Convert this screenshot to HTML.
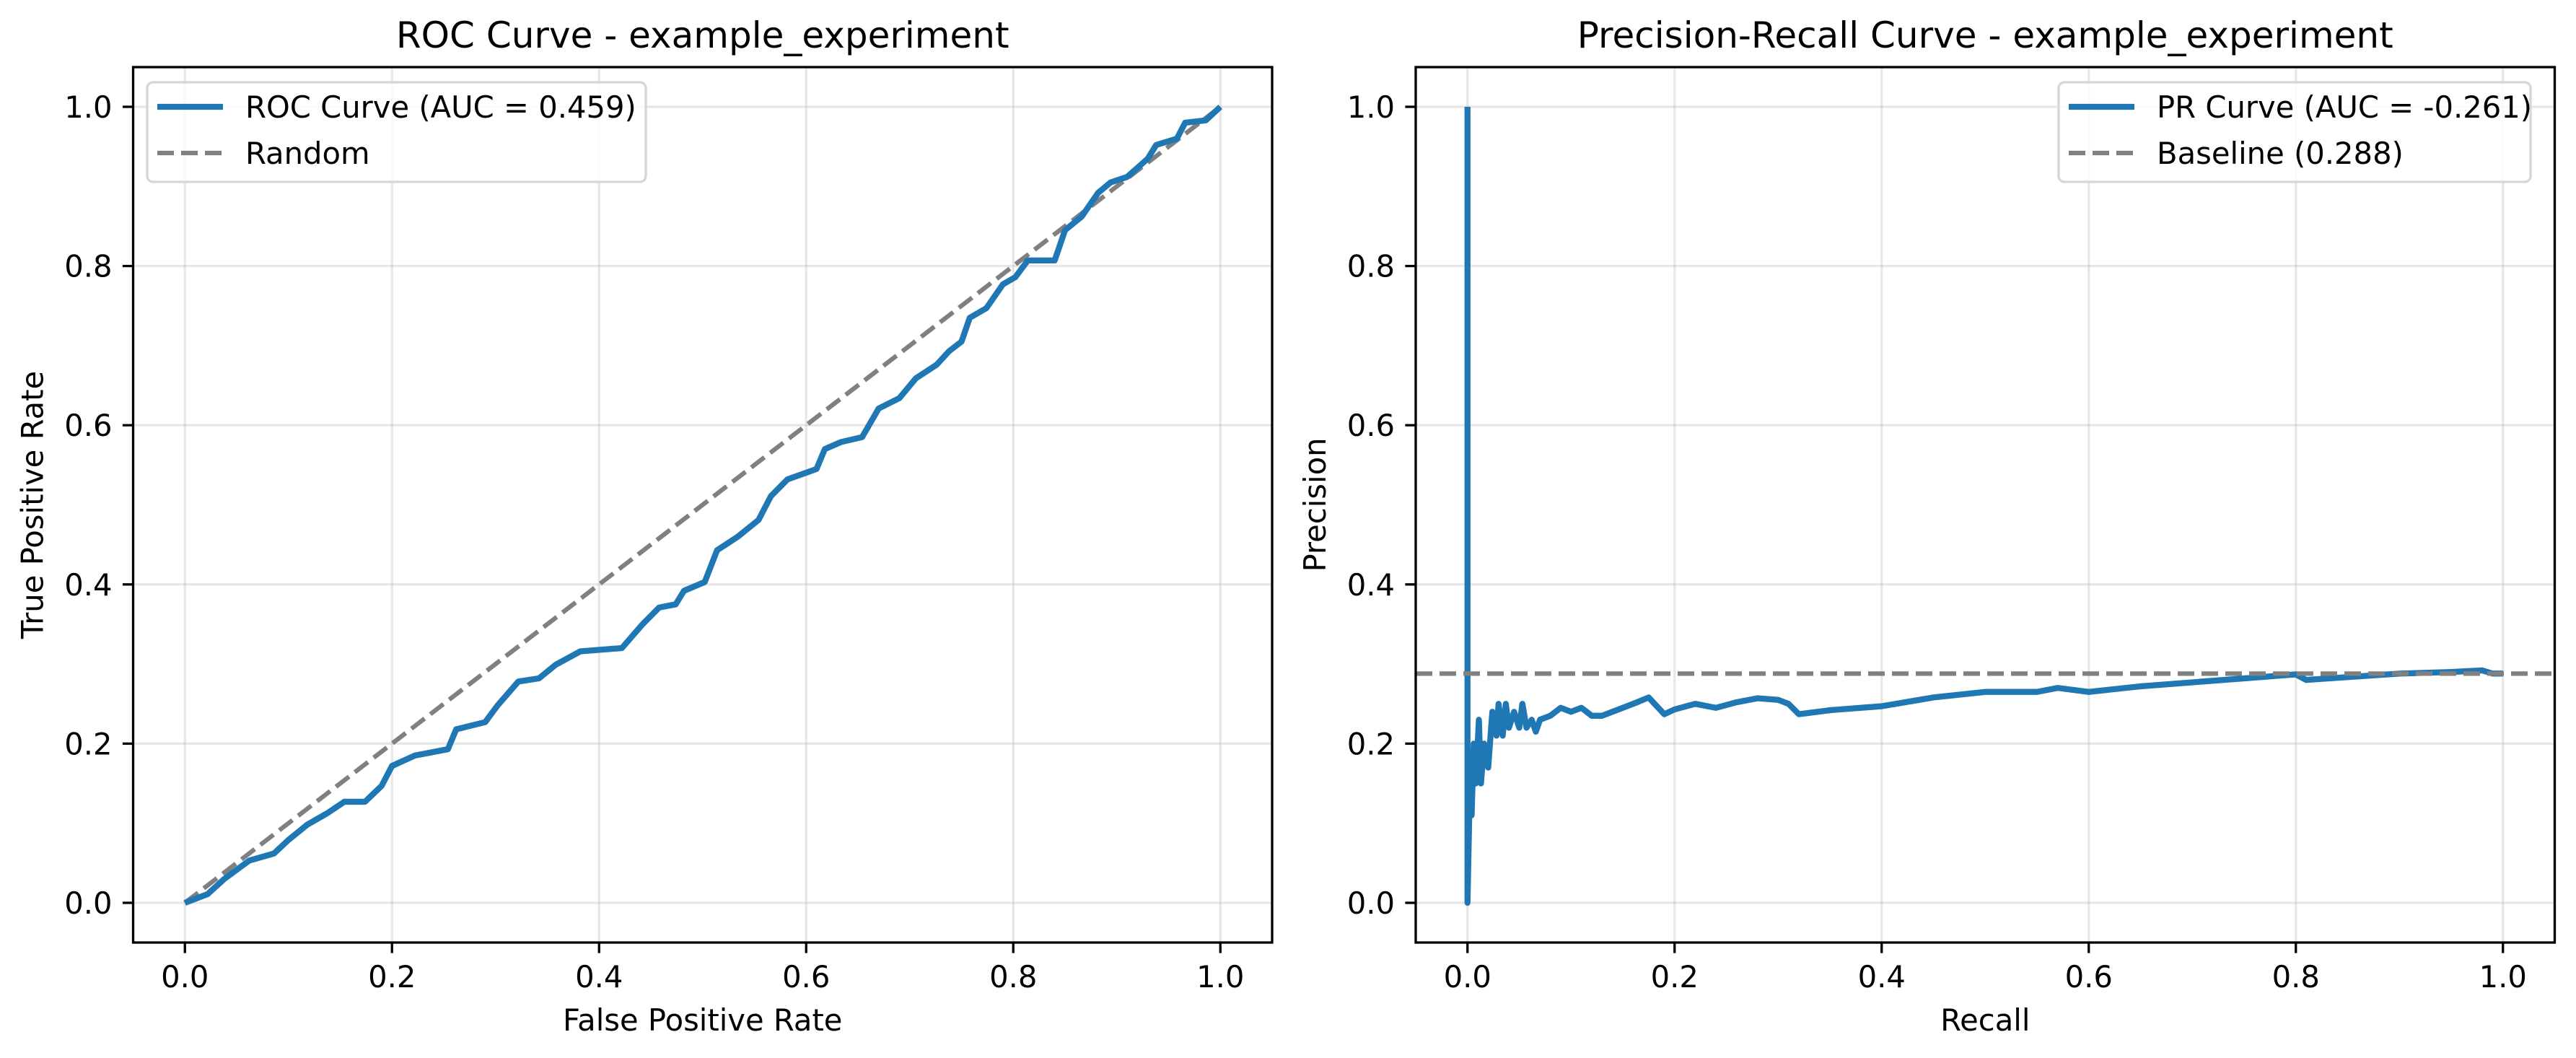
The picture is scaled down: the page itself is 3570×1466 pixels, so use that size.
<!DOCTYPE html>
<html><head><meta charset="utf-8"><style>
html,body{margin:0;padding:0;background:#fff;}
svg{display:block;font-family:"DejaVu Sans","Liberation Sans",sans-serif;}
</style></head><body>
<svg id="fig" width="3570" height="1466" viewBox="0 0 3570 1466" xmlns="http://www.w3.org/2000/svg"></svg>
<script>
const rocFpr=[0,.022,.038,.062,.086,.10,.118,.138,.154,.174,.19,.20,.222,.254,.262,.29,.302,.322,.342,.358,.382,.422,.442,.458,.474,.482,.502,.514,.534,.554,.566,.582,.61,.618,.634,.654,.67,.69,.706,.726,.738,.75,.758,.774,.79,.802,.814,.84,.85,.866,.882,.894,.91,.93,.938,.958,.966,.986,1];
const rocTpr=[0,.011,.03,.053,.062,.079,.098,.113,.127,.127,.147,.172,.185,.193,.218,.227,.248,.278,.282,.299,.316,.32,.35,.371,.375,.392,.403,.443,.46,.481,.511,.532,.545,.57,.579,.585,.621,.634,.659,.676,.693,.705,.735,.747,.777,.786,.807,.807,.845,.862,.892,.905,.912,.935,.952,.96,.98,.983,1];
const prRecall=[0,0,.002,.004,.006,.008,.011,.013,.016,.02,.024,.028,.03,.034,.037,.04,.045,.05,.053,.057,.062,.066,.07,.08,.09,.1,.11,.12,.13,.14,.15,.16,.175,.19,.2,.22,.24,.26,.28,.3,.31,.32,.35,.4,.45,.5,.55,.57,.6,.65,.7,.75,.8,.81,.9,.95,.98,.99,1];
const prPrecision=[1,0,.13,.11,.2,.15,.23,.15,.2,.17,.24,.21,.25,.21,.25,.22,.24,.22,.25,.22,.23,.215,.23,.235,.245,.24,.245,.235,.235,.24,.245,.25,.258,.237,.243,.25,.245,.252,.257,.255,.25,.237,.242,.247,.258,.265,.265,.27,.265,.272,.277,.282,.287,.28,.288,.29,.292,.288,.288];
const baseline=[0.288];
const ticks=[0,0.2,0.4,0.6,0.8,1.0];
const tickLabels=["0.0","0.2","0.4","0.6","0.8","1.0"];

const NS="http://www.w3.org/2000/svg";
const svg=document.getElementById('fig');
function mk(tag,attrs,parent){const e=document.createElementNS(NS,tag);for(const k in attrs)e.setAttribute(k,attrs[k]);(parent||svg).appendChild(e);return e;}

function panel(cfg){
  const g=mk('g',{});
  
  
  const L=cfg.left,W=1578.5,T=93,H=1213;
  const sx=v=>L+71.75+v*1435, sy=v=>1251-v*1103;
  ticks.forEach((t,i)=>{
    const gx=mk('line',{x1:sx(t),x2:sx(t),y1:T,y2:T+H,stroke:'#b0b0b0','stroke-opacity':0.3,'stroke-width':3.3},g);
    
    
    const gy=mk('line',{x1:L,x2:L+W,y1:sy(t),y2:sy(t),stroke:'#b0b0b0','stroke-opacity':0.3,'stroke-width':3.3},g);
    
    
    const tx=mk('line',{x1:sx(t),x2:sx(t),y1:T+H,y2:T+H+14.6,stroke:'#000','stroke-width':3.3},g);
    
    
    const ty=mk('line',{x1:L-14.6,x2:L,y1:sy(t),y2:sy(t),stroke:'#000','stroke-width':3.3},g);
    
    
    const lx=mk('text',{x:sx(t),y:1368,'font-size':41.7,'text-anchor':'middle',fill:'#000'},g);lx.textContent=tickLabels[i];
    
    
    const ly=mk('text',{x:L-29,y:sy(t)+15,'font-size':41.7,'text-anchor':'end',fill:'#000'},g);ly.textContent=tickLabels[i];
    
    
  });
  cfg.draw(g,sx,sy,L,W);
  const box=mk('rect',{x:L,y:T,width:W,height:H,fill:'none',stroke:'#000','stroke-width':3.3},g);
  
  
  const ti=mk('text',{x:L+W/2,y:66,'font-size':50,'text-anchor':'middle',fill:'#000'},g);ti.textContent=cfg.title;
  
  
  const xl=mk('text',{x:L+W/2,y:1428,'font-size':41.7,'text-anchor':'middle',fill:'#000'},g);xl.textContent=cfg.xlabel;
  
  
  const yl=mk('text',{x:0,y:0,'font-size':41.7,'text-anchor':'middle',fill:'#000',transform:`translate(${L-125},${T+H/2}) rotate(-90)`},g);yl.textContent=cfg.ylabel;
  
  
  const lg=mk('g',{},g);
  
  
  const lx0=cfg.legX, lw=cfg.legW;
  mk('rect',{x:lx0,y:114,width:lw,height:138,rx:8,fill:'#fff','fill-opacity':0.8,stroke:'#d6d6d6','stroke-width':3.3},lg);
  const l1=mk('line',{x1:lx0+14,x2:lx0+105,y1:148,y2:148,stroke:'#1f77b4','stroke-width':8.3},lg);
  
  
  const t1=mk('text',{x:lx0+136,y:163,'font-size':41.7,fill:'#000'},lg);t1.textContent=cfg.leg1;
  
  
  const l2=mk('line',{x1:lx0+14,x2:lx0+105,y1:212,y2:212,stroke:'#808080','stroke-width':6.25,'stroke-dasharray':'23,10'},lg);
  
  
  const t2=mk('text',{x:lx0+136,y:227,'font-size':41.7,fill:'#000'},lg);t2.textContent=cfg.leg2;
  
  
}

panel({name:'roc-panel',left:184.5,title:'ROC Curve - example_experiment',xlabel:'False Positive Rate',ylabel:'True Positive Rate',
  legX:204,legW:691,leg1:'ROC Curve (AUC = 0.459)',leg2:'Random',
  draw:(g,sx,sy)=>{
    const d=mk('line',{x1:sx(0),y1:sy(0),x2:sx(1),y2:sy(1),stroke:'#808080','stroke-width':6.25,'stroke-dasharray':'23,10'},g);
    
    
    const pts=rocFpr.map((f,i)=>sx(f)+','+sy(rocTpr[i])).join(' ');
    const p=mk('polyline',{points:pts,fill:'none',stroke:'#1f77b4','stroke-width':8.3,'stroke-linejoin':'round'},g);
    
    
  }});

panel({name:'pr-panel',left:1962,title:'Precision-Recall Curve - example_experiment',xlabel:'Recall',ylabel:'Precision',
  legX:2853,legW:654,leg1:'PR Curve (AUC = -0.261)',leg2:'Baseline (0.288)',
  draw:(g,sx,sy,L,W)=>{
    const pts=prRecall.map((r,i)=>sx(r)+','+sy(prPrecision[i])).join(' ');
    const p=mk('polyline',{points:pts,fill:'none',stroke:'#1f77b4','stroke-width':8.3,'stroke-linejoin':'round'},g);
    
    
    const b=mk('line',{x1:L,x2:L+W,y1:sy(baseline[0]),y2:sy(baseline[0]),stroke:'#808080','stroke-width':6.25,'stroke-dasharray':'23,10'},g);
    
    
  }});
</script>
</body></html>
